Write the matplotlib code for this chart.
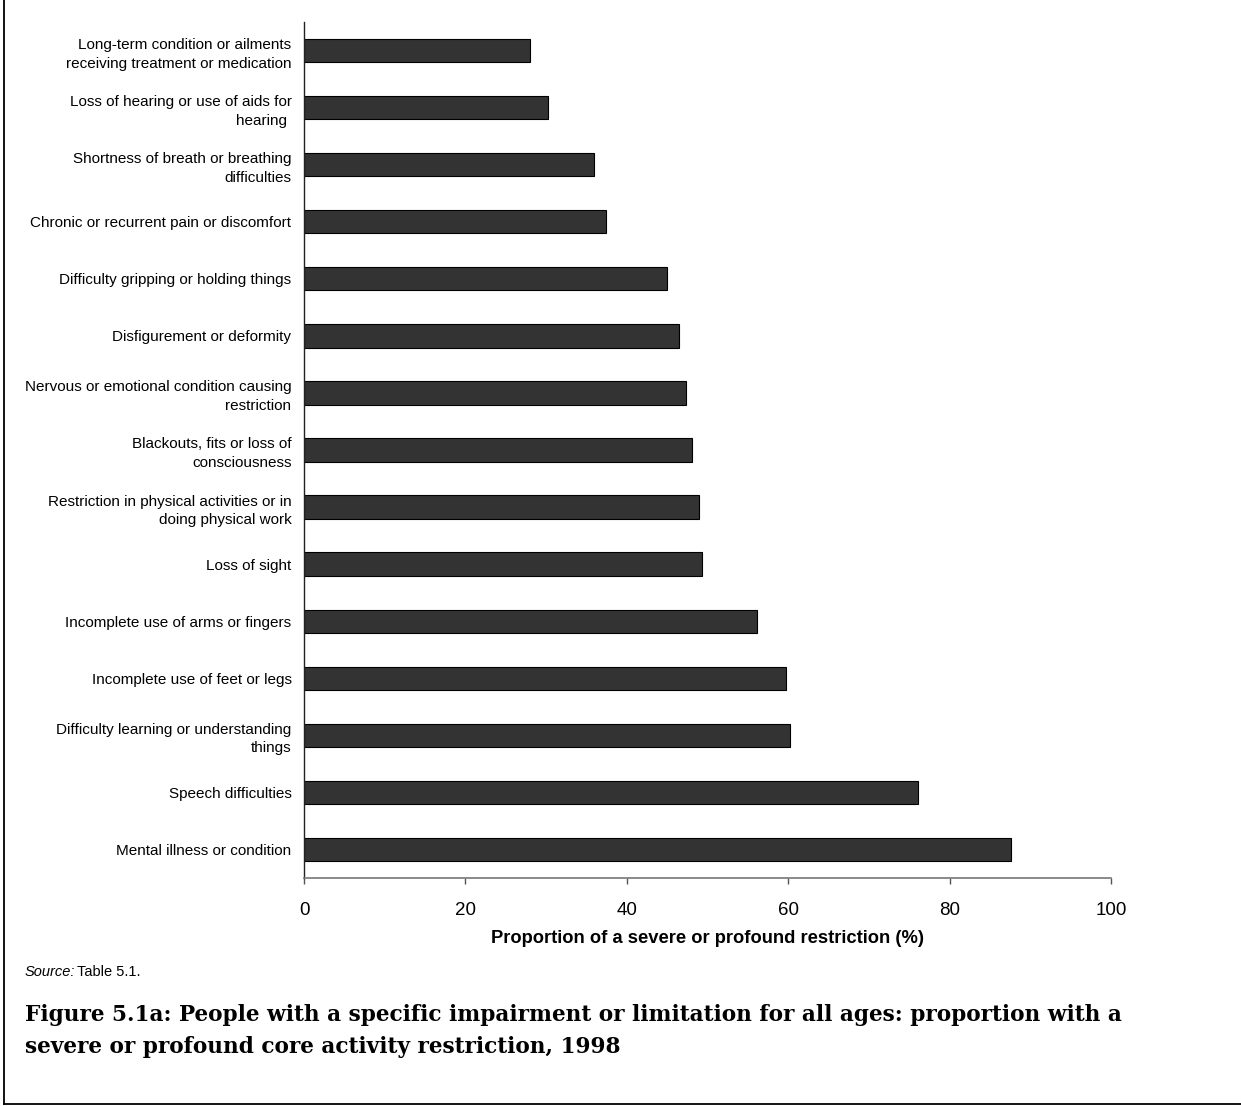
import matplotlib.pyplot as plt

# Categories (top to bottom as in the chart) and their values
categories = [
    "Long-term condition or ailments\nreceiving treatment or medication",
    "Loss of hearing or use of aids for\nhearing ",
    "Shortness of breath or breathing\ndifficulties",
    "Chronic or recurrent pain or discomfort",
    "Difficulty gripping or holding things",
    "Disfigurement or deformity",
    "Nervous or emotional condition causing\nrestriction",
    "Blackouts, fits or loss of\nconsciousness",
    "Restriction in physical activities or in\ndoing physical work",
    "Loss of sight",
    "Incomplete use of arms or fingers",
    "Incomplete use of feet or legs",
    "Difficulty learning or understanding\nthings",
    "Speech difficulties",
    "Mental illness or condition",
]
values = [28.0, 30.2, 35.9, 37.4, 45.0, 46.5, 47.3, 48.1, 48.9, 49.3,
          56.1, 59.7, 60.2, 76.1, 87.6]
xticks = [0, 20, 40, 60, 80, 100]

plt.rcParams['font.family'] = ['Liberation Sans', 'DejaVu Sans']

W, H = 1241, 1106
fig = plt.figure(figsize=(W / 100, H / 100), dpi=100)
ax = fig.add_axes([304 / W, 1 - 878 / H, (1111 - 304) / W, (878 - 22) / H])

pos = list(range(len(categories)))
ax.barh(pos, values, height=0.41, color="#333333", edgecolor="black", linewidth=0.8)
ax.set_ylim(len(categories) - 0.5, -0.5)
ax.set_xlim(0, 100)
ax.set_yticks(pos)
ax.set_yticklabels(categories, fontsize=11, ha="right", linespacing=1.42)
ax.tick_params(axis="y", length=0, pad=9)
ax.set_xticks(xticks)
ax.set_xticklabels([str(t) for t in xticks], fontsize=13.5)
ax.tick_params(axis="x", length=4, width=1, color="#555555", pad=13)
ax.set_xlabel("Proportion of a severe or profound restriction (%)",
              fontsize=13.2, fontweight="bold", labelpad=8)

for s in ["top", "right"]:
    ax.spines[s].set_visible(False)
ax.spines["left"].set_color("#222222")
ax.spines["bottom"].set_color("#777777")
ax.spines["left"].set_linewidth(1)
ax.spines["bottom"].set_linewidth(1.2)

# source note and caption
fig.text(25 / W, 1 - 972 / H, "Source:", fontsize=10.5, style="italic", va="center")
fig.text(77 / W, 1 - 972 / H, "Table 5.1.", fontsize=10.5, va="center")
fig.text(25 / W, 1 - 1031 / H,
         "Figure 5.1a: People with a specific impairment or limitation for all ages: proportion with a\n"
         "severe or profound core activity restriction, 1998",
         fontsize=15.6, fontweight="bold", family="DejaVu Serif", va="center",
         linespacing=1.6)

# outer frame (left and bottom edges)
fig.add_artist(plt.Line2D([3.5 / W, 3.5 / W], [1 - 1104 / H, 1], color="black",
                          linewidth=1.3, transform=fig.transFigure))
fig.add_artist(plt.Line2D([3.5 / W, 1], [1 - 1104 / H, 1 - 1104 / H], color="black",
                          linewidth=1.3, transform=fig.transFigure))

fig.savefig("out.png", dpi=100)
